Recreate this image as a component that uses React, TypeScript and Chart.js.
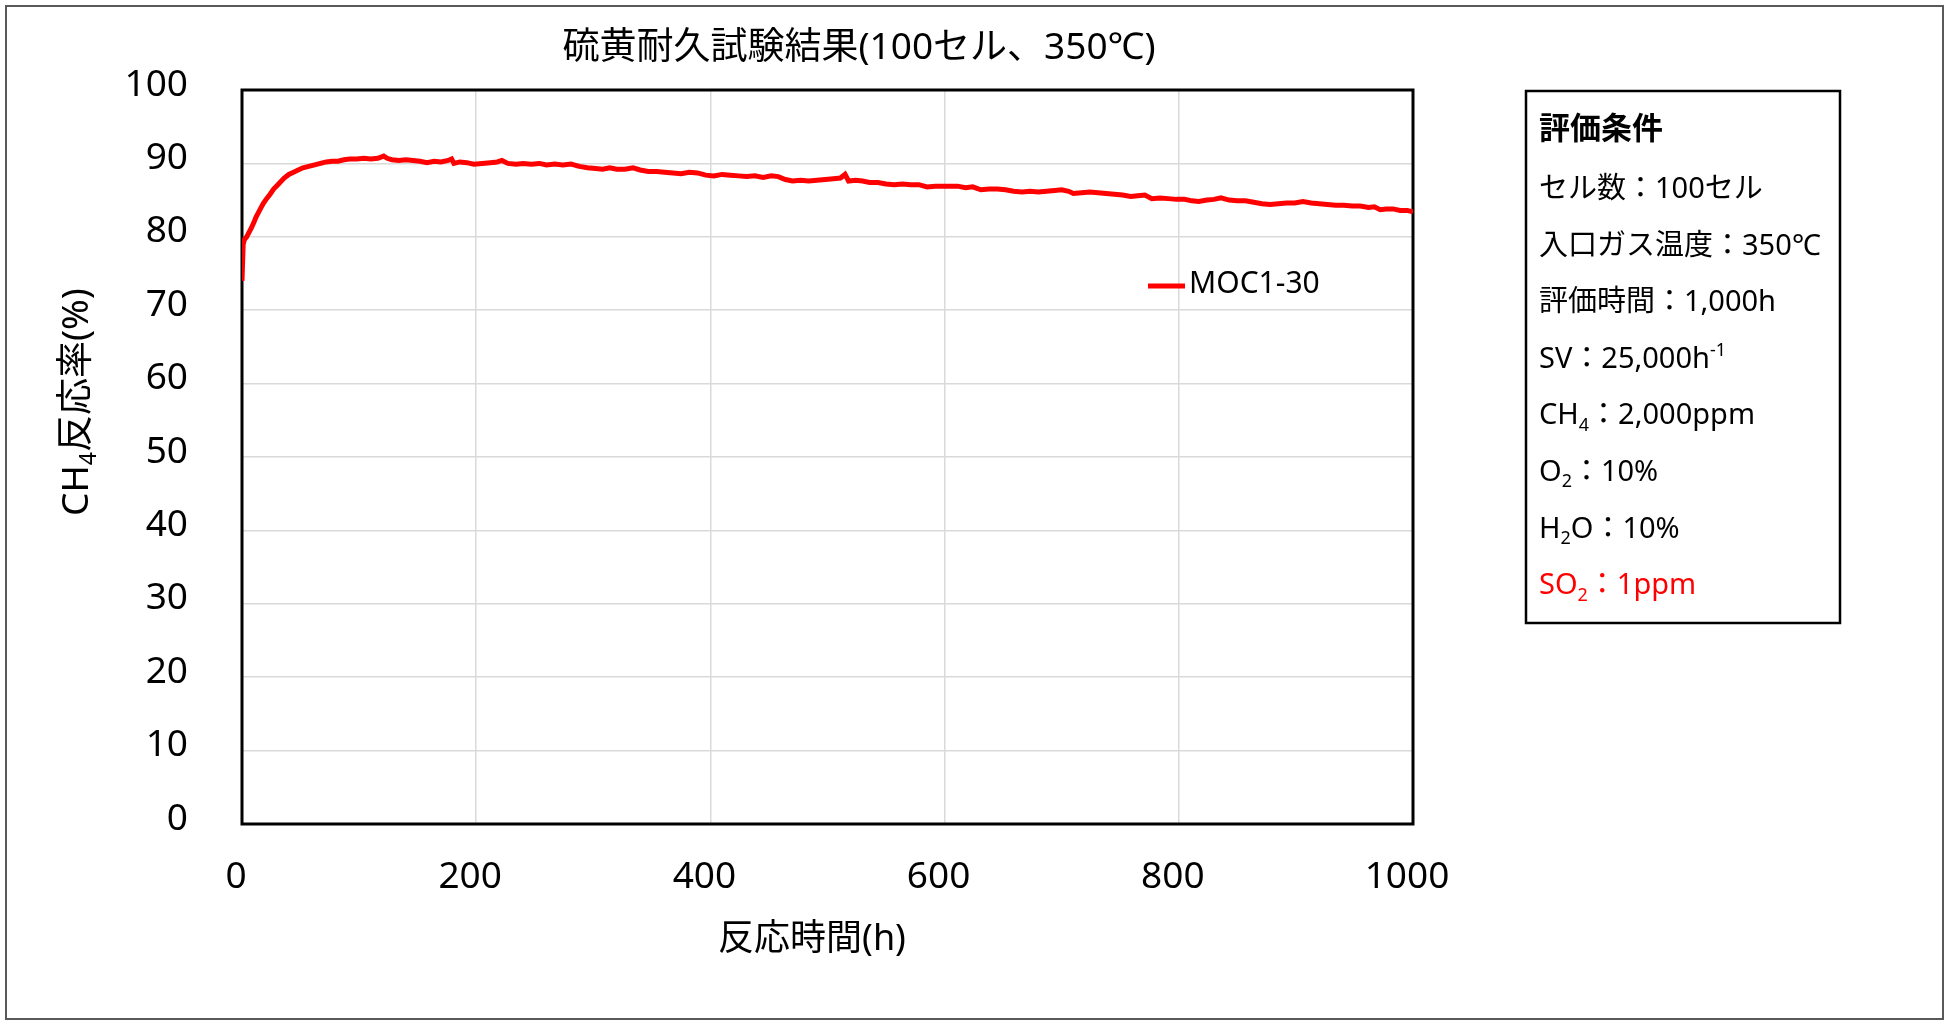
import { useEffect, useRef } from 'react';
import { Chart, registerables } from 'chart.js';

Chart.register(...registerables);

// 反応時間 (h) と CH4 反応率 (%) — 図から読み取った値
const hours = [
  0, 1, 2, 4, 6, 8, 10, 12, 15, 18, 21, 24, 27, 30, 33, 36, 40, 44, 48, 52,
  57, 62, 67, 72, 77, 82, 87, 92, 98, 104, 110, 116, 121, 124, 128, 134, 140, 146, 152, 158,
  164, 170, 176, 179, 181, 186, 192, 198, 205, 212, 218, 222, 227, 234, 240, 247, 254, 260, 267, 274,
  281, 288, 295, 302, 308, 314, 320, 327, 334, 340, 347, 354, 361, 368, 375, 382, 389, 396, 403, 410,
  417, 424, 431, 438, 445, 452, 458, 464, 470, 477, 484, 491, 498, 505, 511, 515, 518, 524, 530, 536,
  543, 550, 557, 564, 571, 578, 585, 592, 598, 604, 611, 618, 624, 631, 638, 645, 652, 659, 666, 673,
  680, 687, 694, 700, 706, 710, 717, 724, 731, 738, 745, 752, 759, 765, 771, 777, 784, 791, 798, 805,
  811, 817, 824, 830, 836, 843, 850, 857, 864, 871, 878, 885, 892, 899, 906, 913, 920, 927, 934, 941,
  948, 955, 962, 967, 972, 977, 983, 989, 995, 1000,
];
const conversion = [
  74.0, 79.0, 79.6, 80.0, 80.6, 81.2, 81.9, 82.7, 83.6, 84.5, 85.2, 85.8, 86.5, 87.0, 87.5, 88.0, 88.5, 88.8, 89.1, 89.4,
  89.6, 89.8, 90.0, 90.2, 90.3, 90.3, 90.5, 90.6, 90.6, 90.7, 90.6, 90.7, 91.0, 90.7, 90.5, 90.4, 90.5, 90.4, 90.3, 90.1,
  90.3, 90.2, 90.4, 90.6, 90.0, 90.2, 90.1, 89.9, 90.0, 90.1, 90.2, 90.4, 90.0, 89.9, 90.0, 89.9, 90.0, 89.8, 89.9, 89.8,
  89.9, 89.6, 89.4, 89.3, 89.2, 89.4, 89.2, 89.2, 89.4, 89.1, 88.9, 88.9, 88.8, 88.7, 88.6, 88.8, 88.7, 88.4, 88.3, 88.5,
  88.4, 88.3, 88.2, 88.3, 88.1, 88.3, 88.2, 87.8, 87.6, 87.7, 87.6, 87.7, 87.8, 87.9, 88.0, 88.5, 87.6, 87.7, 87.6, 87.4,
  87.4, 87.2, 87.1, 87.2, 87.1, 87.1, 86.8, 86.9, 86.9, 86.9, 86.9, 86.7, 86.8, 86.4, 86.5, 86.5, 86.4, 86.2, 86.1, 86.2,
  86.1, 86.2, 86.3, 86.4, 86.2, 85.9, 86.0, 86.1, 86.0, 85.9, 85.8, 85.7, 85.5, 85.6, 85.7, 85.2, 85.3, 85.2, 85.1, 85.1,
  84.9, 84.8, 85.0, 85.1, 85.3, 85.0, 84.9, 84.9, 84.7, 84.5, 84.4, 84.5, 84.6, 84.6, 84.8, 84.6, 84.5, 84.4, 84.3, 84.3,
  84.2, 84.2, 84.0, 84.1, 83.7, 83.8, 83.8, 83.6, 83.6, 83.4,
];

const seriesName = 'MOC1-30';
const chartTitle = '硫黄耐久試験結果(100セル、350℃)';
const xAxisTitle = '反応時間(h)';

type Run = { text: string; shift?: 'sub' | 'sup' };

const yAxisTitle: Run[] = [{ text: 'CH' }, { text: '4', shift: 'sub' }, { text: '反応率(%)' }];
const conditionsHeading = '評価条件';
const conditionLines: Run[][] = [
  [{ text: 'セル数：100セル' }],
  [{ text: '入口ガス温度：350℃' }],
  [{ text: '評価時間：1,000h' }],
  [{ text: 'SV：25,000h' }, { text: '-1', shift: 'sup' }],
  [{ text: 'CH' }, { text: '4', shift: 'sub' }, { text: '：2,000ppm' }],
  [{ text: 'O' }, { text: '2', shift: 'sub' }, { text: '：10%' }],
  [{ text: 'H' }, { text: '2', shift: 'sub' }, { text: 'O：10%' }],
  [{ text: 'SO' }, { text: '2', shift: 'sub' }, { text: '：1ppm' }],
];

const FONT = '"Noto Sans", "Noto Sans CJK JP", sans-serif';
const RED = '#ff0000';

function richWidth(ctx: CanvasRenderingContext2D, runs: Run[], size: number, weight = 'normal') {
  let w = 0;
  for (const r of runs) {
    ctx.font = `${weight} ${r.shift ? size * 0.62 : size}px ${FONT}`;
    w += ctx.measureText(r.text).width;
  }
  return w;
}

function drawRich(
  ctx: CanvasRenderingContext2D,
  runs: Run[],
  x: number,
  baseline: number,
  size: number,
  color: string,
  weight = 'normal',
) {
  let cx = x;
  ctx.fillStyle = color;
  ctx.textAlign = 'left';
  ctx.textBaseline = 'alphabetic';
  for (const r of runs) {
    ctx.font = `${weight} ${r.shift ? size * 0.62 : size}px ${FONT}`;
    const dy = r.shift === 'sub' ? size * 0.22 : r.shift === 'sup' ? -size * 0.4 : 0;
    ctx.fillText(r.text, cx, baseline + dy);
    cx += ctx.measureText(r.text).width;
  }
}

const decorPlugin = {
  id: 'decor',
  beforeDatasetsDraw(chart: Chart) {
    const { ctx, chartArea: a } = chart;
    ctx.save();
    ctx.strokeStyle = '#000';
    ctx.lineWidth = 3;
    ctx.strokeRect(a.left, a.top, a.right - a.left, a.bottom - a.top);
    ctx.restore();
  },
  afterDraw(chart: Chart) {
    const { ctx } = chart;
    ctx.save();

    // outer frame
    ctx.strokeStyle = '#595959';
    ctx.lineWidth = 2;
    ctx.strokeRect(6, 6, 1937, 1013);

    // title
    ctx.fillStyle = '#000';
    ctx.font = `37px ${FONT}`;
    ctx.textAlign = 'center';
    ctx.textBaseline = 'alphabetic';
    ctx.fillText(chartTitle, 859, 59);

    // x axis title
    ctx.font = `36px ${FONT}`;
    ctx.fillText(xAxisTitle, 812, 950);

    // y axis title
    ctx.save();
    ctx.translate(75, 402);
    ctx.rotate(-Math.PI / 2);
    const yw = richWidth(ctx, yAxisTitle, 37);
    drawRich(ctx, yAxisTitle, -yw / 2, 13, 37, '#000');
    ctx.restore();

    // legend
    const ds = chart.data.datasets[0];
    ctx.strokeStyle = (ds.borderColor as string) || RED;
    ctx.lineWidth = 5;
    ctx.beginPath();
    ctx.moveTo(1148, 286);
    ctx.lineTo(1185, 286);
    ctx.stroke();
    drawRich(ctx, [{ text: ds.label || seriesName }], 1189, 293, 30, '#000');

    // conditions box
    ctx.strokeStyle = '#000';
    ctx.lineWidth = 2.5;
    ctx.strokeRect(1526, 91, 314, 532);
    drawRich(ctx, [{ text: conditionsHeading }], 1539, 139, 31, '#000', 'bold');
    conditionLines.forEach((line, i) => {
      const color = i === conditionLines.length - 1 ? RED : '#000';
      drawRich(ctx, line, 1539, 198 + i * 56.6, 29, color);
    });

    ctx.restore();
  },
};

export default function App() {
  const canvasRef = useRef<HTMLCanvasElement>(null);
  const chartRef = useRef<Chart | null>(null);

  useEffect(() => {
    if (!canvasRef.current) return;
    if (chartRef.current) chartRef.current.destroy();

    const points = hours.map((h, i) => ({ x: h, y: conversion[i] }));

    chartRef.current = new Chart(canvasRef.current, {
      type: 'line',
      data: {
        datasets: [
          {
            label: seriesName,
            data: points,
            borderColor: RED,
            backgroundColor: RED,
            borderWidth: 5,
            pointRadius: 0,
            tension: 0,
            fill: false,
          },
        ],
      },
      options: {
        animation: false,
        responsive: false,
        devicePixelRatio: 1,
        layout: { padding: { left: 0, top: 90, right: 1950 - 1413, bottom: 0 } },
        plugins: {
          legend: { display: false },
          title: { display: false },
          tooltip: { enabled: false },
        },
        scales: {
          x: {
            type: 'linear',
            min: 0,
            max: 1000,
            afterFit: (scale) => {
              scale.height = 1024 - 824;
            },
            grid: { color: '#d9d9d9', lineWidth: 1.5, drawTicks: false },
            border: { display: false },
            ticks: {
              stepSize: 200,
              padding: 31,
              labelOffset: -6,
              color: '#000',
              font: { family: FONT, size: 37 },
              maxRotation: 0,
              callback: (v) => String(v),
            },
          },
          y: {
            min: 0,
            max: 100,
            afterFit: (scale) => {
              scale.width = 242;
            },
            grid: { color: '#d9d9d9', lineWidth: 1.5, drawTicks: false },
            border: { display: false },
            ticks: {
              stepSize: 10,
              padding: 54,
              labelOffset: -5,
              color: '#000',
              font: { family: FONT, size: 37 },
            },
          },
        },
      },
      plugins: [decorPlugin],
    });

    return () => {
      if (chartRef.current) chartRef.current.destroy();
      chartRef.current = null;
    };
  }, []);

  return (
    <div style={{ position: 'absolute', left: 0, top: 0, width: 1950, height: 1024, background: '#fff' }}>
      <canvas ref={canvasRef} width={1950} height={1024} style={{ width: 1950, height: 1024 }} />
    </div>
  );
}
